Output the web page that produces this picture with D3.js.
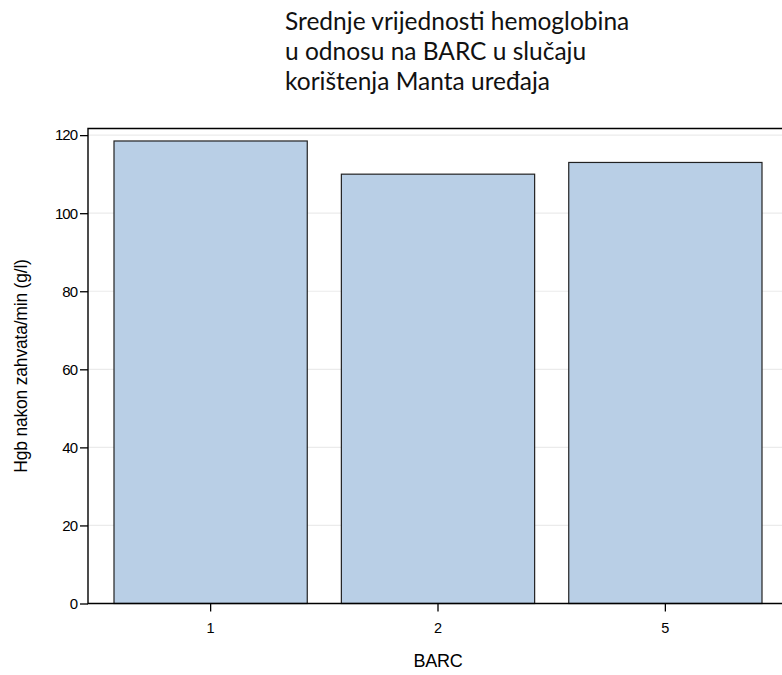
<!DOCTYPE html>
<html><head><meta charset="utf-8">
<script src="https://cdn.jsdelivr.net/npm/d3@7/dist/d3.min.js"></script>
<style>body{margin:0;background:#fff}svg{display:block}</style>
</head><body>
<svg id="c" width="782" height="675"></svg>
<script>
const categories = ["1", "2", "5"];
const values = [118.5, 110.0, 113.0];
const yTicks = [0, 20, 40, 60, 80, 100, 120];
const titleLines = ["Srednje vrijednosti hemoglobina", "u odnosu na BARC u slučaju", "korištenja Manta uređaja"];
const xTitle = "BARC";
const yTitle = "Hgb nakon zahvata/min (g/l)";

const svg = d3.select("#c");
const pL = 88, pT = 128.5, pB = 603.5, pR = 788;
const y = d3.scaleLinear().domain([0, 121.7]).range([pB, pT]);
const x = d3.scaleBand().domain(categories).range([114, 762]).paddingInner(0.15).paddingOuter(0);

// gridlines
svg.append("g").selectAll("line").data(yTicks).join("line")
  .attr("x1", pL).attr("x2", 782)
  .attr("y1", d => y(d)).attr("y2", d => y(d))
  .attr("stroke", "#ebebeb").attr("stroke-width", 1.2);

// bars
svg.append("g").selectAll("rect").data(values).join("rect")
  .attr("x", (d, i) => x(categories[i]))
  .attr("width", x.bandwidth())
  .attr("y", d => y(d))
  .attr("height", d => y(0) - y(d))
  .attr("fill", "#b9cfe6").attr("stroke", "#222").attr("stroke-width", 1.2);

// frame
svg.append("path").attr("d", `M${pR},${pT}H${pL}V${pB}H${pR}`)
  .attr("fill", "none").attr("stroke", "#000").attr("stroke-width", 1.4);

// y axis
const ya = svg.append("g").attr("transform", `translate(${pL},0)`)
  .call(d3.axisLeft(y).tickValues(yTicks).tickSize(8).tickPadding(3));
ya.select(".domain").remove();
ya.selectAll("line").attr("stroke", "#000").attr("stroke-width", 1.3);
ya.selectAll("text").attr("font-family", "Liberation Sans, Arial, sans-serif").attr("font-size", 15).attr("letter-spacing", -1).attr("fill", "#000");

// x axis
const xa = svg.append("g").attr("transform", `translate(0,${pB})`)
  .call(d3.axisBottom(x).tickSize(8).tickPadding(11));
xa.select(".domain").remove();
xa.selectAll("line").attr("stroke", "#000").attr("stroke-width", 1.3);
xa.selectAll("text").attr("font-family", "Liberation Sans, Arial, sans-serif").attr("font-size", 14.5).attr("fill", "#000");

svg.append("text").attr("x", x("2") + x.bandwidth() / 2).attr("y", 667)
  .attr("text-anchor", "middle").attr("font-family", "Liberation Sans, Arial, sans-serif")
  .attr("font-size", 18).attr("letter-spacing", -0.3).text(xTitle);

svg.append("text").attr("transform", `translate(27,${(pT + pB) / 2}) rotate(-90)`)
  .attr("text-anchor", "middle").attr("font-family", "Liberation Sans, Arial, sans-serif")
  .attr("font-size", 17.5).attr("letter-spacing", -0.2).text(yTitle);

const t = svg.append("text").attr("font-family", "Lato, 'Open Sans', sans-serif").attr("font-size", 24.5).attr("fill", "#111");
titleLines.forEach((s, i) => t.append("tspan").attr("x", 285).attr("y", 30 + i * 30).text(s));
</script>
</body></html>
